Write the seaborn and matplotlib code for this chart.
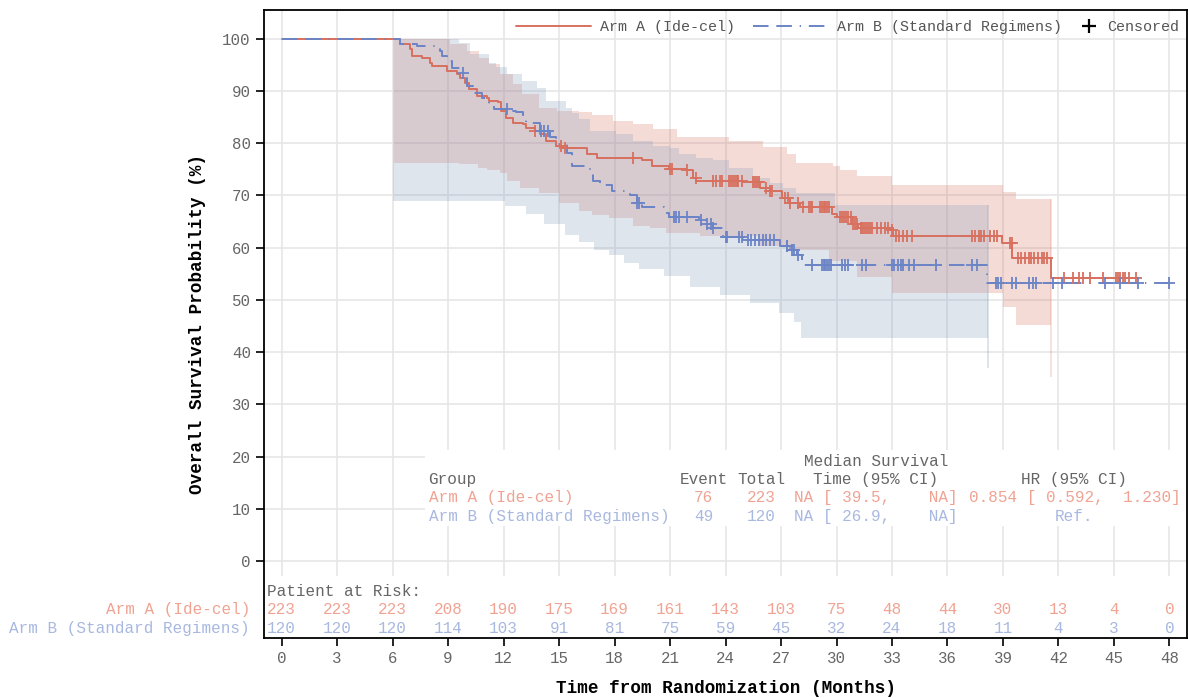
import numpy as np
import pandas as pd
import matplotlib
matplotlib.use("Agg")
import matplotlib.pyplot as plt
import matplotlib.transforms as mtransforms
from matplotlib.lines import Line2D
from matplotlib.patches import Rectangle
import seaborn as sns

# Kaplan-Meier step curves (months, survival %)
arm_a_time = [0, 6.38, 6.92, 7.03, 7.57, 8.0, 8.16, 8.92, 9.46, 9.62, 9.9, 10.16, 10.54,
              11.08, 11.24, 11.68, 11.89, 12.16, 12.49, 13.03, 13.24, 13.68, 13.95, 14.32,
              14.86, 15.19, 16.49, 17.03, 19.51, 20.05, 20.97, 21.89, 22.22, 22.43, 24.92,
              25.84, 26.38, 27.08, 27.46, 28.0, 29.78, 30.0, 30.86, 31.14, 32.86, 33.03,
              38.92, 39.51, 41.62, 46.2]
arm_a_surv = [100, 99.0, 98.0, 96.7, 96.4, 95.4, 94.8, 93.9, 93.3, 92.5, 91.5, 90.4, 89.1,
              88.7, 88.1, 87.8, 86.2, 84.9, 83.9, 83.7, 83.0, 82.4, 81.8, 80.5,
              79.5, 79.0, 78.0, 77.1, 76.7, 75.7, 75.1, 74.8, 73.4, 72.8, 72.5,
              71.5, 70.9, 69.6, 68.5, 67.7, 66.5, 65.8, 64.6, 63.7, 63.3, 62.3,
              60.8, 58.1, 54.1, 54.1]

arm_b_time = [0, 6.38, 7.3, 8.54, 8.7, 8.92, 9.19, 9.78, 9.89, 10.05, 10.43, 10.86, 11.24,
              11.51, 12.22, 12.7, 13.03, 13.24, 13.95, 14.49, 14.86, 15.41, 15.68, 16.65,
              16.81, 17.19, 17.89, 18.81, 19.19, 19.51, 20.7, 20.97, 22.59, 22.97, 23.3,
              23.84, 24.92, 26.92, 27.46, 27.84, 28.11, 38.16, 48.0]
arm_b_surv = [100, 99.0, 98.6, 97.7, 96.7, 95.8, 94.3, 93.5, 92.5, 91.0, 89.7, 88.7, 87.2,
              86.6, 86.2, 85.9, 84.9, 83.9, 82.4, 81.1, 79.9, 78.2, 75.7, 74.6,
              72.8, 71.9, 70.9, 70.0, 68.6, 67.7, 66.7, 65.8, 65.2, 64.6, 63.7,
              62.0, 61.4, 60.4, 59.5, 58.5, 56.6, 53.2, 53.2]

# censoring times (months)
arm_a_cens = [13.7, 15.1, 15.3, 19.0, 21.0, 21.1, 21.9, 22.4, 23.3, 23.5, 23.7, 23.8, 24.2,
              24.3, 24.4, 24.5, 24.6, 24.7, 24.9, 25.5, 25.6, 25.7, 25.8, 26.2, 26.4, 26.5,
              27.2, 27.4, 27.5, 27.9, 28.2, 28.5, 28.6, 28.7, 29.1, 29.2, 29.3, 29.4, 29.5,
              29.6, 30.2, 30.3, 30.4, 30.5, 30.6, 30.8, 30.9, 31.0, 31.1, 31.3, 31.4, 31.5,
              31.6, 31.7, 31.8, 31.9, 32.2, 32.4, 32.6, 32.8, 33.0, 33.2, 33.4, 33.6, 33.8,
              34.1, 37.3, 37.5, 37.7, 37.8, 38.0, 38.3, 38.5, 38.7, 39.4, 39.5, 39.8, 40.0,
              40.2, 40.4, 40.5, 40.7, 40.9, 41.1, 41.2, 41.4, 42.3, 42.8, 43.1, 43.3, 43.7,
              44.4, 45.1, 45.2, 45.3, 45.5, 45.6, 45.8, 46.2]
arm_b_cens = [9.8, 12.2, 14.05, 14.2, 14.4, 19.2, 19.35, 21.2, 21.3, 21.5, 21.9, 22.7, 23.0,
              23.2, 23.3, 24.05, 24.1, 24.75, 24.9, 25.2, 25.4, 25.6, 25.8, 26.0, 26.2, 26.4,
              26.6, 27.3, 27.35, 27.6, 27.7, 27.9, 28.7, 29.2, 29.3, 29.4, 29.5, 29.6, 29.7,
              30.3, 30.45, 30.6, 31.4, 31.6, 33.0, 33.1, 33.3, 33.5, 33.6, 33.9, 34.2, 35.4,
              37.3, 37.6, 38.6, 38.75, 38.9, 39.5, 39.7, 40.4, 40.6, 40.8, 41.7, 42.2, 44.5,
              45.3, 46.3, 48.0]

# 95% CI bands (step functions)
a_hi_time = [0, 6.1, 9.1, 10.0, 10.7, 11.2, 11.8, 12.5, 13.0, 13.9, 14.9, 16.1, 16.8, 17.9,
             19.0, 20.1, 21.4, 24.2, 26.0, 27.3, 27.8, 29.8, 30.2, 31.1, 33.0, 39.0, 39.7, 41.6]
a_hi_val = [100, 100, 99.0, 97.7, 96.4, 95.2, 93.3, 91.4, 89.5, 86.8, 86.2, 85.9, 85.3, 84.3,
            83.7, 82.8, 81.1, 80.5, 79.2, 78.0, 76.3, 75.7, 74.8, 73.8, 71.9, 70.6, 69.4, 69.4]
a_lo_time = [0, 6.1, 9.6, 10.6, 11.1, 11.8, 12.2, 12.9, 13.9, 15.0, 16.1, 16.8, 17.7, 19.0,
             19.9, 20.8, 22.6, 25.8, 27.5, 29.6, 31.1, 33.0, 39.0, 39.7, 41.6]
a_lo_val = [100, 76.3, 76.1, 75.3, 74.8, 74.2, 72.8, 71.5, 70.4, 68.5, 67.1, 66.2, 65.6, 64.2,
            63.7, 62.9, 62.3, 60.4, 59.5, 57.5, 54.3, 51.4, 48.6, 45.1, 35.2]

b_hi_time = [0, 6.0, 9.6, 10.2, 11.2, 11.6, 12.2, 13.0, 13.8, 14.3, 15.4, 15.7, 16.1, 16.65,
             18.1, 19.0, 20.1, 21.0, 21.5, 22.4, 23.3, 24.2, 25.5, 26.4, 27.1, 27.8, 29.9, 38.2]
b_hi_val = [100, 100, 99.2, 97.1, 95.4, 94.5, 93.3, 92.0, 90.6, 88.1, 86.8, 85.7, 84.7, 82.4,
            81.8, 80.5, 79.5, 79.0, 78.0, 77.2, 76.7, 75.3, 73.4, 72.3, 71.5, 70.4, 68.1, 68.1]
b_lo_time = [0, 6.0, 12.1, 13.2, 14.2, 15.3, 16.1, 16.9, 17.7, 18.5, 19.3, 20.7, 22.1, 23.7,
             25.3, 26.9, 27.7, 28.1, 38.2]
b_lo_val = [100, 69.0, 68.0, 66.5, 64.5, 62.5, 61.0, 59.5, 58.5, 57.0, 56.0, 54.5, 52.5, 51.0,
            49.5, 47.4, 45.7, 42.8, 36.9]

# number at risk
risk_times = [0, 3, 6, 9, 12, 15, 18, 21, 24, 27, 30, 33, 36, 39, 42, 45, 48]
risk_a = [223, 223, 223, 208, 190, 175, 169, 161, 143, 103, 75, 48, 44, 30, 13, 4, 0]
risk_b = [120, 120, 120, 114, 103, 91, 81, 75, 59, 45, 32, 24, 18, 11, 4, 3, 0]

# summary table
group_labels = ["Arm A (Ide-cel)", "Arm B (Standard Regimens)"]
events = [76, 49]
totals = [223, 120]
median_ci = ["NA [ 39.5,    NA]", "NA [ 26.9,    NA]"]
hr_ci = ["0.854 [ 0.592,  1.230]", "Ref."]

RED = "#d8705f"
BLUE = "#6b84c6"
RED_TXT = "#f0a393"
BLUE_TXT = "#a8b8e0"
GREY = "#666666"
BLUE_DASH = (0, (8, 4, 8, 4, 0.7, 4))


def step_value(times, values, query):
    idx = np.searchsorted(times, query, side="right") - 1
    return np.asarray(values)[np.clip(idx, 0, len(values) - 1)]


def band_frame(hi_t, hi_v, lo_t, lo_v):
    grid = np.union1d(hi_t, lo_t)
    return pd.DataFrame({"t": grid,
                         "hi": step_value(hi_t, hi_v, grid),
                         "lo": step_value(lo_t, lo_v, grid)})


sns.set_theme(style="whitegrid")
plt.rcParams["font.family"] = ["Liberation Mono", "DejaVu Sans Mono"]

fig = plt.figure(figsize=(11.88, 6.98), dpi=100)
ax = fig.add_axes([0.2222, 0.086, 0.7770, 0.8997])

# confidence bands
band_a = band_frame(a_hi_time, a_hi_val, a_lo_time, a_lo_val)
band_b = band_frame(b_hi_time, b_hi_val, b_lo_time, b_lo_val)
ax.fill_between(band_a["t"], band_a["lo"], band_a["hi"], step="post",
                color=RED, alpha=0.25, lw=0, zorder=1)
ax.fill_between(band_b["t"], band_b["lo"], band_b["hi"], step="post",
                color="#8aa2c0", alpha=0.28, lw=0, zorder=1)
ax.vlines(band_a["t"].iloc[-1], band_a["lo"].iloc[-1], band_a["hi"].iloc[-1],
          color=RED, alpha=0.25, lw=1.2, zorder=1)
ax.vlines(band_b["t"].iloc[-1], band_b["lo"].iloc[-1], band_b["hi"].iloc[-1],
          color="#8aa2c0", alpha=0.35, lw=1.2, zorder=1)

# survival curves
sns.lineplot(x=arm_a_time, y=arm_a_surv, drawstyle="steps-post", color=RED,
             lw=1.4, ax=ax, zorder=3)
sns.lineplot(x=arm_b_time, y=arm_b_surv, drawstyle="steps-post", color=BLUE,
             lw=1.4, ax=ax, zorder=3.2)
ax.lines[-1].set_linestyle(BLUE_DASH)

# censor marks
sns.scatterplot(x=arm_a_cens, y=step_value(arm_a_time, arm_a_surv, arm_a_cens),
                marker="+", s=70, color=RED, linewidth=1.3, ax=ax, zorder=4)
sns.scatterplot(x=arm_b_cens, y=step_value(arm_b_time, arm_b_surv, arm_b_cens),
                marker="+", s=70, color=BLUE, linewidth=1.3, ax=ax, zorder=4.2)

ax.set_xlim(-0.95, 48.95)
ax.set_ylim(-14.72, 105.5)
ax.set_xticks(risk_times)
ax.set_yticks(range(0, 101, 10))
ax.grid(True, color="#e6e6e6", lw=1.2)
ax.set_axisbelow(True)
for sp in ax.spines.values():
    sp.set_color("black")
    sp.set_linewidth(1.3)
ax.tick_params(axis="both", length=5.5, width=1.2, color="black", bottom=True, left=True,
               labelcolor=GREY, labelsize=11.3, pad=4)

ax.set_xlabel("Time from Randomization (Months)", fontsize=12.7, fontweight="bold",
              color="black", labelpad=10)
ax.set_ylabel("Overall Survival Probability (%)", fontsize=12.7, fontweight="bold",
              color="black", labelpad=12)

# white boxes behind the tables
blend = mtransforms.blended_transform_factory(ax.transAxes, ax.transData)
ax.add_patch(Rectangle((0, -14.72), 1, 14.72 - 2.8, transform=blend,
                       facecolor="white", edgecolor="none", zorder=1.5))
ax.add_patch(Rectangle((7.73, 6.7), 48.95 - 7.73, 21.2 - 6.7,
                       facecolor="white", edgecolor="none", zorder=1.5))

# summary table
ts = 11.5
ax.text(7.95, 15.6, "Group", ha="left", va="center", color=GREY, fontsize=ts, zorder=5)
ax.text(22.81, 15.6, "Event", ha="center", va="center", color=GREY, fontsize=ts, zorder=5)
ax.text(25.92, 15.6, "Total", ha="center", va="center", color=GREY, fontsize=ts, zorder=5)
ax.text(32.13, 19.0, "Median Survival", ha="center", va="center", color=GREY,
        fontsize=ts, zorder=5)
ax.text(32.13, 15.6, "Time (95% CI)", ha="center", va="center", color=GREY,
        fontsize=ts, zorder=5)
ax.text(42.86, 15.6, "HR (95% CI)", ha="center", va="center", color=GREY,
        fontsize=ts, zorder=5)
for i, (lab, ev, tot, med, hr) in enumerate(zip(group_labels, events, totals, median_ci, hr_ci)):
    y = 12.2 - 3.6 * i
    c = RED_TXT if i == 0 else BLUE_TXT
    ax.text(7.95, y, lab, ha="left", va="center", color=c, fontsize=ts, zorder=5)
    ax.text(22.81, y, str(ev), ha="center", va="center", color=c, fontsize=ts, zorder=5)
    ax.text(25.92, y, str(tot), ha="center", va="center", color=c, fontsize=ts, zorder=5)
    ax.text(32.13, y, med, ha="center", va="center", color=c, fontsize=ts, zorder=5)
    ax.text(42.86, y, hr, ha="center", va="center", color=c, fontsize=ts, zorder=5)

# patients at risk
ax.text(0.003, -5.8, "Patient at Risk:", transform=blend, ha="left", va="center",
        color=GREY, fontsize=ts, zorder=5)
for y, lab, counts, c in [(-9.3, group_labels[0], risk_a, RED_TXT),
                          (-13.0, group_labels[1], risk_b, BLUE_TXT)]:
    ax.text(-1.7, y, lab, ha="right", va="center", color=c, fontsize=ts, clip_on=False)
    for t, n in zip(risk_times, counts):
        ax.text(t, y, str(n), ha="center", va="center", color=c, fontsize=ts, zorder=5)

# legend: the two curves, then the censor mark with a short handle
line_handles = [
    Line2D([], [], color=RED, lw=1.4, label="Arm A (Ide-cel)"),
    Line2D([], [], color=BLUE, lw=1.4, linestyle=BLUE_DASH, label="Arm B (Standard Regimens)"),
]
cens_handle = [Line2D([], [], color="black", marker="+", linestyle="none", markersize=10,
                      mew=1.6, label="Censored")]
leg1 = ax.legend(handles=line_handles, loc="upper right", bbox_to_anchor=(0.876, 1.0),
                 ncol=2, frameon=False, fontsize=10.8, handlelength=5, handletextpad=0.6,
                 columnspacing=1.2, borderaxespad=0.3, labelcolor="#555555")
leg1.set_zorder(6)
ax.add_artist(leg1)
leg2 = ax.legend(handles=cens_handle, loc="upper right", bbox_to_anchor=(1.003, 1.0),
                 frameon=False, fontsize=10.8, handlelength=1.2, handletextpad=0.6,
                 borderaxespad=0.3, labelcolor="#555555")
leg2.set_zorder(6)

fig.savefig("out.png", dpi=100)
